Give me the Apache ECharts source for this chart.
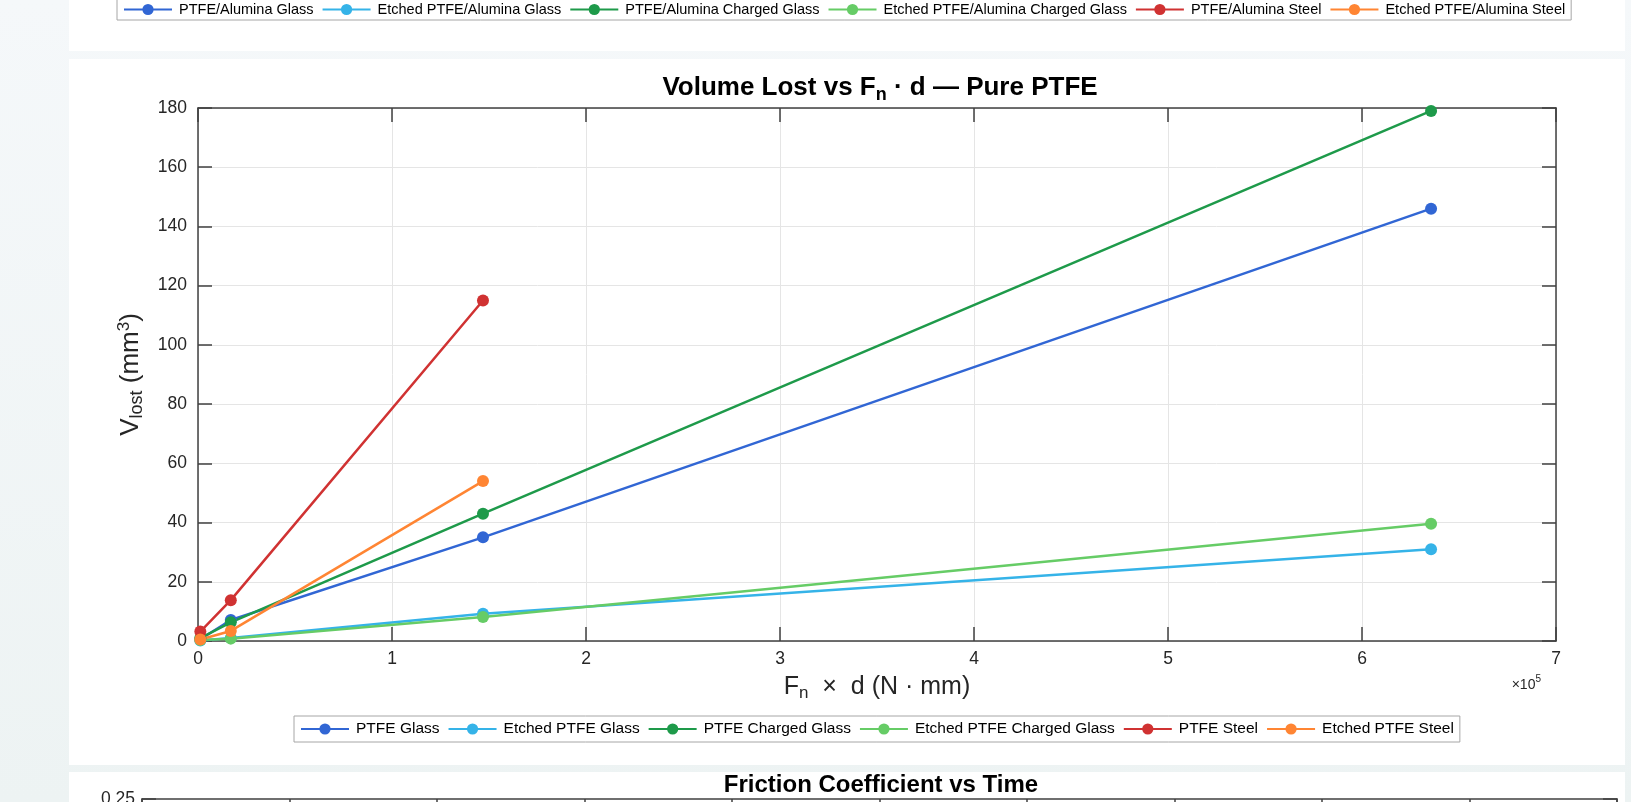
<!DOCTYPE html>
<html>
<head>
<meta charset="utf-8">
<script src="https://cdn.jsdelivr.net/npm/echarts@6/dist/echarts.min.js"></script>
<style>
  html, body { margin: 0; padding: 0; }
  body {
    width: 1631px; height: 802px; overflow: hidden; position: relative;
    background: linear-gradient(#f5f8fa, #edf3f3);
  }
  .panel { position: absolute; left: 69px; width: 1556px; background: #fff; }
  #chart { position: absolute; left: 0; top: 0; width: 1631px; height: 802px; }
</style>
</head>
<body>
<div class="panel" style="top:0;height:51px"></div>
<div class="panel" style="top:59px;height:706px"></div>
<div class="panel" style="top:772px;height:60px"></div>
<div id="chart"></div>
<script>
// F_n * d values (N·mm) where volume was measured
const fnDGlass = [1200, 16900, 146900, 635600];
const fnDSteel = [1200, 16900, 146900];

// volume lost (mm^3)
const ptfeGlass = [0.6, 7.1, 35.0, 146.0];
const etchedPtfeGlass = [0.2, 1.0, 9.2, 31.0];
const ptfeChargedGlass = [1.0, 6.3, 43.0, 179.0];
const etchedPtfeChargedGlass = [0.3, 0.8, 8.1, 39.6];
const ptfeSteel = [3.2, 13.8, 115.0];
const etchedPtfeSteel = [0.5, 3.4, 54.0];

const mainNames = ["PTFE Glass", "Etched PTFE Glass", "PTFE Charged Glass",
  "Etched PTFE Charged Glass", "PTFE Steel", "Etched PTFE Steel"];
// legend of the chart above (cut off at the top of the page)
const aluminaNames = ["PTFE/Alumina Glass", "Etched PTFE/Alumina Glass", "PTFE/Alumina Charged Glass",
  "Etched PTFE/Alumina Charged Glass", "PTFE/Alumina Steel", "Etched PTFE/Alumina Steel"];
const colors = ["#3166d4", "#35b3e8", "#1e9a4a", "#66cc66", "#d03232", "#ff8533"];

const xTicks = { min: 0, max: 700000, interval: 100000 };
const yTicks = { min: 0, max: 180, interval: 20 };

const FONT = "'Liberation Sans', Arial, Helvetica, sans-serif";
const INK = "#262626";
const BOX = "#404040";

function zip(xs, ys) { return xs.map((x, i) => [x, ys[i]]); }

const mainData = [
  zip(fnDGlass, ptfeGlass),
  zip(fnDGlass, etchedPtfeGlass),
  zip(fnDGlass, ptfeChargedGlass),
  zip(fnDGlass, etchedPtfeChargedGlass),
  zip(fnDSteel, ptfeSteel),
  zip(fnDSteel, etchedPtfeSteel),
];

function lineSeries(name, data, color, axisIdx) {
  return {
    name, type: "line", data,
    xAxisIndex: axisIdx, yAxisIndex: axisIdx,
    symbol: "circle", symbolSize: 12, showAllSymbol: true,
    clip: false, animation: false,
    lineStyle: { width: 2.5, color },
    itemStyle: { color },
  };
}

function boxAxis(extra) {
  return Object.assign({
    type: "value",
    axisLine: { show: true, onZero: false, lineStyle: { color: BOX, width: 1.5 } },
    axisTick: { show: true, inside: true, length: 14, lineStyle: { color: BOX, width: 1.5 } },
    axisLabel: { show: false },
    splitLine: { show: false },
  }, extra);
}

const labelStyle = { color: INK, fontSize: 17.5, fontFamily: FONT };
const gridLine = { show: true, lineStyle: { color: "#e5e5e5", width: 1 } };

function legendBox(names, top, left, size, pad) {
  return {
    data: names, left, top,
    orient: "horizontal", itemWidth: 48, itemHeight: 14, itemGap: 8,
    padding: pad,
    borderColor: "#a6a6a6", borderWidth: 1, backgroundColor: "#fff",
    textStyle: { fontSize: size, fontFamily: FONT, color: "#000", padding: [0, 0, 0, 2] },
    selectedMode: false,
  };
}

const chart = echarts.init(document.getElementById("chart"), null, { renderer: "canvas" });
chart.setOption({
  backgroundColor: "transparent",
  animation: false,
  title: [
    {
      text: "Volume Lost vs {b|F}{sb|n}{b| · d — Pure PTFE}",
      left: 875, top: 67, textAlign: "center",
      textStyle: {
        fontSize: 26, fontWeight: "bold", fontFamily: FONT, color: "#000",
        rich: {
          b: { fontSize: 26, fontWeight: "bold", fontFamily: FONT, color: "#000" },
          sb: { fontSize: 18, fontWeight: "bold", fontFamily: FONT, color: "#000", padding: [14, 0, 0, 0] },
        },
      },
    },
    {
      text: "Friction Coefficient vs Time",
      left: 876, top: 768, textAlign: "center",
      textStyle: { fontSize: 24, fontWeight: "bold", fontFamily: FONT, color: "#000" },
    },
  ],
  legend: [
    legendBox(aluminaNames, -2, 117, 14.5, [4, 6, 3, 6]),
    legendBox(mainNames, 716, 294, 15.5, [5, 6, 5, 6]),
  ],
  grid: [
    { left: 198, right: 75, top: 108, bottom: 161 },
    { left: 142, right: 14, top: 799, height: 400 },
  ],
  xAxis: [
    boxAxis(Object.assign({
      gridIndex: 0, position: "bottom",
      axisLabel: Object.assign({ show: true, margin: 9, formatter: (v) => String(v / 1e5) }, labelStyle),
      splitLine: gridLine,
      name: "{t|F}{s|n}{t|  ×  d (N · mm)}",
      nameLocation: "middle", nameGap: 31,
      nameTextStyle: {
        fontFamily: FONT, color: INK, fontSize: 25,
        rich: {
          t: { fontSize: 25, fontFamily: FONT, color: INK },
          s: { fontSize: 17, fontFamily: FONT, color: INK, padding: [13, 0, 0, 0] },
        },
      },
    }, xTicks)),
    boxAxis(Object.assign({ gridIndex: 0, position: "top" }, xTicks)),
    boxAxis({ gridIndex: 1, position: "top", min: 0, max: 1000, interval: 100 }),
    boxAxis({ gridIndex: 1, position: "bottom", min: 0, max: 1000, interval: 100 }),
  ],
  yAxis: [
    boxAxis(Object.assign({
      gridIndex: 0, position: "left",
      axisLabel: Object.assign({ show: true, margin: 11 }, labelStyle),
      splitLine: gridLine,
      name: "{t|V}{s|lost}{t| (mm}{p|3}{t|)}",
      nameLocation: "middle", nameGap: 52, nameRotate: 90,
      nameTextStyle: {
        fontFamily: FONT, color: INK, fontSize: 26,
        rich: {
          t: { fontSize: 26, fontFamily: FONT, color: INK },
          s: { fontSize: 18, fontFamily: FONT, color: INK, padding: [13, 0, 0, 0] },
          p: { fontSize: 17, fontFamily: FONT, color: INK, padding: [0, 0, 13, 0] },
        },
      },
    }, yTicks)),
    boxAxis(Object.assign({ gridIndex: 0, position: "right" }, yTicks)),
    boxAxis({
      gridIndex: 1, position: "left", min: 0, max: 0.25, interval: 0.05,
      axisLabel: Object.assign({ show: true, margin: 7, formatter: (v) => v.toFixed(2) }, labelStyle),
    }),
    boxAxis({ gridIndex: 1, position: "right", min: 0, max: 0.25, interval: 0.05 }),
  ],
  graphic: [
    {
      type: "text", right: 90, top: 674,
      style: {
        text: "{a|×10}{b|5}",
        rich: {
          a: { fontSize: 14, fontFamily: FONT, fill: INK, padding: [6, 0, 0, 0] },
          b: { fontSize: 10, fontFamily: FONT, fill: INK, padding: [0, 0, 6, 0] },
        },
      },
    },
  ],
  series: [
    ...mainNames.map((n, i) => lineSeries(n, mainData[i], colors[i], 0)),
    // the alumina chart itself is off the top of the page; only its legend shows
    ...aluminaNames.map((n, i) => lineSeries(n, [], colors[i], 2)),
  ],
});
</script>
</body>
</html>
